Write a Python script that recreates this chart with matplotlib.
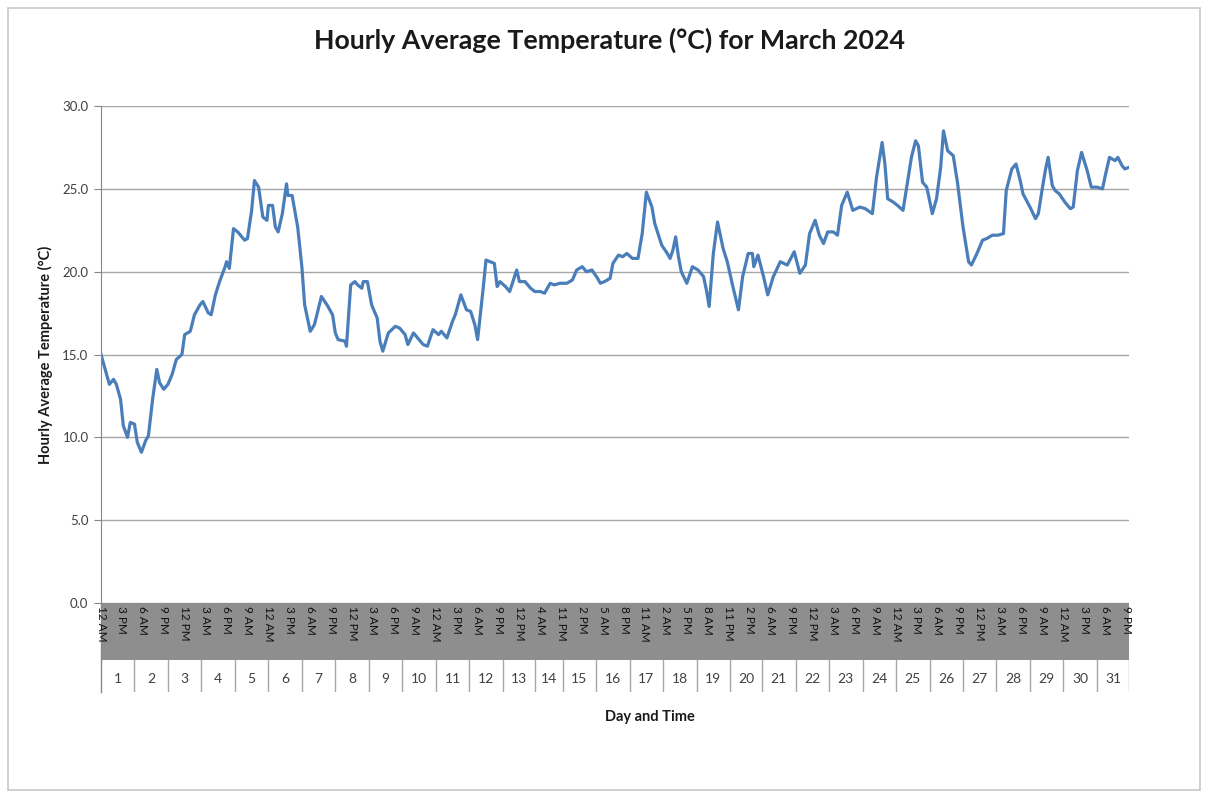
import matplotlib
matplotlib.use("Agg")
import matplotlib.pyplot as plt
from matplotlib.patches import Rectangle
import numpy as np

plt.rcParams['font.family'] = ['Lato', 'DejaVu Sans']

# record number (hourly rows, a few hours missing) and temperature
rec = [0, 3, 6, 9, 11, 14, 16, 19, 21, 24, 26, 29, 32, 34, 37, 40, 42, 45, 48, 51,
       54, 58, 60, 64, 67, 71, 73, 77, 79, 82, 85, 89, 90, 92, 95, 98, 103, 105, 108, 110,
       113, 116, 119, 120, 123, 125, 127, 130, 133, 134, 137, 141, 144, 146, 150, 153, 158, 162, 166, 168,
       170, 175, 176, 179, 182, 184, 187, 188, 191, 194, 198, 200, 202, 206, 211, 214, 218, 220, 224, 231,
       234, 238, 242, 244, 248, 252, 254, 258, 262, 265, 268, 270, 274, 276, 279, 282, 284, 286, 290, 293,
       298, 300, 304, 308, 311, 315, 318, 322, 325, 329, 334, 338, 341, 345, 348, 352, 356, 358, 361, 365,
       367, 371, 374, 377, 381, 385, 388, 391, 395, 397, 402, 406, 408, 410, 412, 414, 416, 420, 424, 428,
       432, 434, 436, 439, 442, 446, 449, 453, 457, 460, 464, 467, 468, 471, 475, 478, 482, 487, 492, 497,
       501, 505, 508, 512, 515, 518, 521, 525, 528, 531, 535, 539, 544, 548, 553, 556, 560, 562, 564, 568,
       571, 575, 578, 581, 584, 586, 589, 592, 596, 599, 602, 604, 607, 611, 614, 618, 622, 624, 628, 632,
       635, 639, 643, 647, 649, 653, 656, 659, 661, 666, 670, 672, 675, 677, 679, 682, 684, 687, 691, 695,
       697, 700, 703, 707, 710, 714, 718, 720, 723, 727, 729, 732, 734, 737]
temp = [15.0, 14.1, 13.2, 13.5, 13.2, 12.3, 10.7, 10.0, 10.9, 10.8, 9.7, 9.1, 9.8, 10.1, 12.3, 14.1, 13.3, 12.9, 13.2, 13.8,
        14.7, 15.0, 16.2, 16.4, 17.4, 18.0, 18.2, 17.5, 17.4, 18.6, 19.4, 20.3, 20.6, 20.2, 22.6, 22.4, 21.9, 22.0, 23.7, 25.5,
        25.1, 23.3, 23.1, 24.0, 24.0, 22.7, 22.4, 23.5, 25.3, 24.6, 24.6, 22.7, 20.3, 18.0, 16.4, 16.8, 18.5, 18.0, 17.4, 16.3,
        15.9, 15.8, 15.5, 19.2, 19.4, 19.2, 19.0, 19.4, 19.4, 18.0, 17.2, 15.8, 15.2, 16.3, 16.7, 16.6, 16.2, 15.6, 16.3, 15.6,
        15.5, 16.5, 16.2, 16.4, 16.0, 17.0, 17.4, 18.6, 17.7, 17.6, 16.8, 15.9, 19.0, 20.7, 20.6, 20.5, 19.1, 19.4, 19.1, 18.8,
        20.1, 19.4, 19.4, 19.0, 18.8, 18.8, 18.7, 19.3, 19.2, 19.3, 19.3, 19.5, 20.1, 20.3, 20.0, 20.1, 19.6, 19.3, 19.4, 19.6,
        20.5, 21.0, 20.9, 21.1, 20.8, 20.8, 22.3, 24.8, 23.9, 22.9, 21.6, 21.1, 20.8, 21.3, 22.1, 20.9, 20.0, 19.3, 20.3, 20.1,
        19.7, 18.9, 17.9, 21.1, 23.0, 21.4, 20.6, 19.1, 17.7, 19.7, 21.1, 21.1, 20.3, 21.0, 19.7, 18.6, 19.7, 20.6, 20.4, 21.2,
        19.9, 20.4, 22.3, 23.1, 22.2, 21.7, 22.4, 22.4, 22.2, 24.0, 24.8, 23.7, 23.9, 23.8, 23.5, 25.7, 27.8, 26.5, 24.4, 24.2,
        24.0, 23.7, 25.3, 26.9, 27.9, 27.6, 25.4, 25.1, 23.5, 24.4, 26.3, 28.5, 27.3, 27.0, 25.4, 22.7, 20.6, 20.4, 21.1, 21.9,
        22.0, 22.2, 22.2, 22.3, 24.9, 26.2, 26.5, 25.5, 24.7, 23.9, 23.2, 23.5, 25.1, 26.1, 26.9, 25.2, 24.9, 24.7, 24.2, 23.8,
        23.9, 26.1, 27.2, 26.1, 25.1, 25.1, 25.0, 25.8, 26.9, 26.7, 26.9, 26.4, 26.2, 26.3]

n_rec = 738
days = list(range(1, 32))
day_hours = [24] * 12 + [23, 20] + [24] * 5 + [23] + [24] * 11

time_labels = ["12 AM", "3 PM", "6 AM", "9 PM", "12 PM", "3 AM", "6 PM", "9 AM",
               "12 AM", "3 PM", "6 AM", "9 PM", "12 PM", "3 AM", "6 PM", "9 AM",
               "12 AM", "3 PM", "6 AM", "9 PM", "12 PM", "4 AM", "11 PM", "2 PM",
               "5 AM", "8 PM", "11 AM", "2 AM", "5 PM", "8 AM", "11 PM", "2 PM",
               "6 AM", "9 PM", "12 PM", "3 AM", "6 PM", "9 AM", "12 AM", "3 PM",
               "6 AM", "9 PM", "12 PM", "3 AM", "6 PM", "9 AM", "12 AM", "3 PM",
               "6 AM", "9 PM"]

W, H = 1208, 794
fig = plt.figure(figsize=(W / 100, H / 100), dpi=100, facecolor='w')
fig.patches.append(Rectangle((8 / W, 4 / H), 1192 / W, 782 / H, transform=fig.transFigure,
                             fill=False, edgecolor='#c8c8c8', linewidth=1.2))

# plot area
ax = fig.add_axes([101 / W, 1 - 603 / H, 1028 / W, 497 / H])
ax.plot(rec, temp, color='#4a7ebb', linewidth=2.3, solid_joinstyle='round')
ax.set_xlim(0, n_rec - 1)
ax.set_ylim(0, 30)
ax.set_yticks(np.arange(0, 31, 5))
ax.set_yticklabels(["%.1f" % v for v in np.arange(0, 31, 5)], fontsize=9.5, color='#404040')
ax.tick_params(axis='y', length=5, color='#868686', pad=4)
ax.set_xticks([])
ax.grid(axis='y', color='#a6a6a6', linewidth=1.0)
ax.set_axisbelow(True)
for s in ['top', 'right', 'bottom']:
    ax.spines[s].set_visible(False)
ax.spines['left'].set_color('#868686')

# category axis area (own axes, x in record numbers, y in pixels below the plot)
axc = fig.add_axes([101 / W, 1 - 692 / H, 1028 / W, 89 / H])
axc.patch.set_alpha(0)
axc.set_xlim(0, n_rec - 1)
axc.set_ylim(-89, 0)
axc.axis('off')

day_start = np.concatenate([[0], np.cumsum(day_hours)[:-1]])
for d, st, hh in zip(days, day_start, day_hours):
    if st > 0:
        axc.plot([st, st], [-57, -89], color='#a6a6a6', linewidth=1)
    axc.text(st + hh / 2, -76, str(d), ha='center', va='center', fontsize=10, color='#404040')
axc.plot([n_rec - 1, n_rec - 1], [-57, -89], color='#a6a6a6', linewidth=1)

# time row: grey band (Excel draws a tick mark for every hour) drawn on top of the axes,
# then the rotated time labels on top of the band
band = Rectangle((0, -57), n_rec - 1, 57, transform=axc.transData,
                 facecolor='#8e8e8e', edgecolor='none', zorder=8)
fig.add_artist(band)
fig.add_artist(plt.Line2D([0, 0], [0, -89], transform=axc.transData, color='#868686',
                          linewidth=1, zorder=8))
for k, lab in enumerate(time_labels):
    fig.text(0, 0, lab, transform=axc.transData, rotation=270, ha='center', va='top',
             fontsize=8.5, color='#111111', zorder=10).set_position((k * 15, -3))

fig.text(610 / W, 1 - 40 / H, "Hourly Average Temperature (°C) for March 2024",
         ha='center', va='center', fontsize=19.3, fontweight='bold', color='#1a1a1a')
fig.text(45 / W, 1 - 355 / H, "Hourly Average Temperature (°C)", rotation=90,
         ha='center', va='center', fontsize=10.5, fontweight='bold', color='#1a1a1a')
fig.text(650 / W, 1 - 717 / H, "Day and Time", ha='center', va='center',
         fontsize=10.5, fontweight='bold', color='#1a1a1a')

fig.savefig('out.png', dpi=100)
